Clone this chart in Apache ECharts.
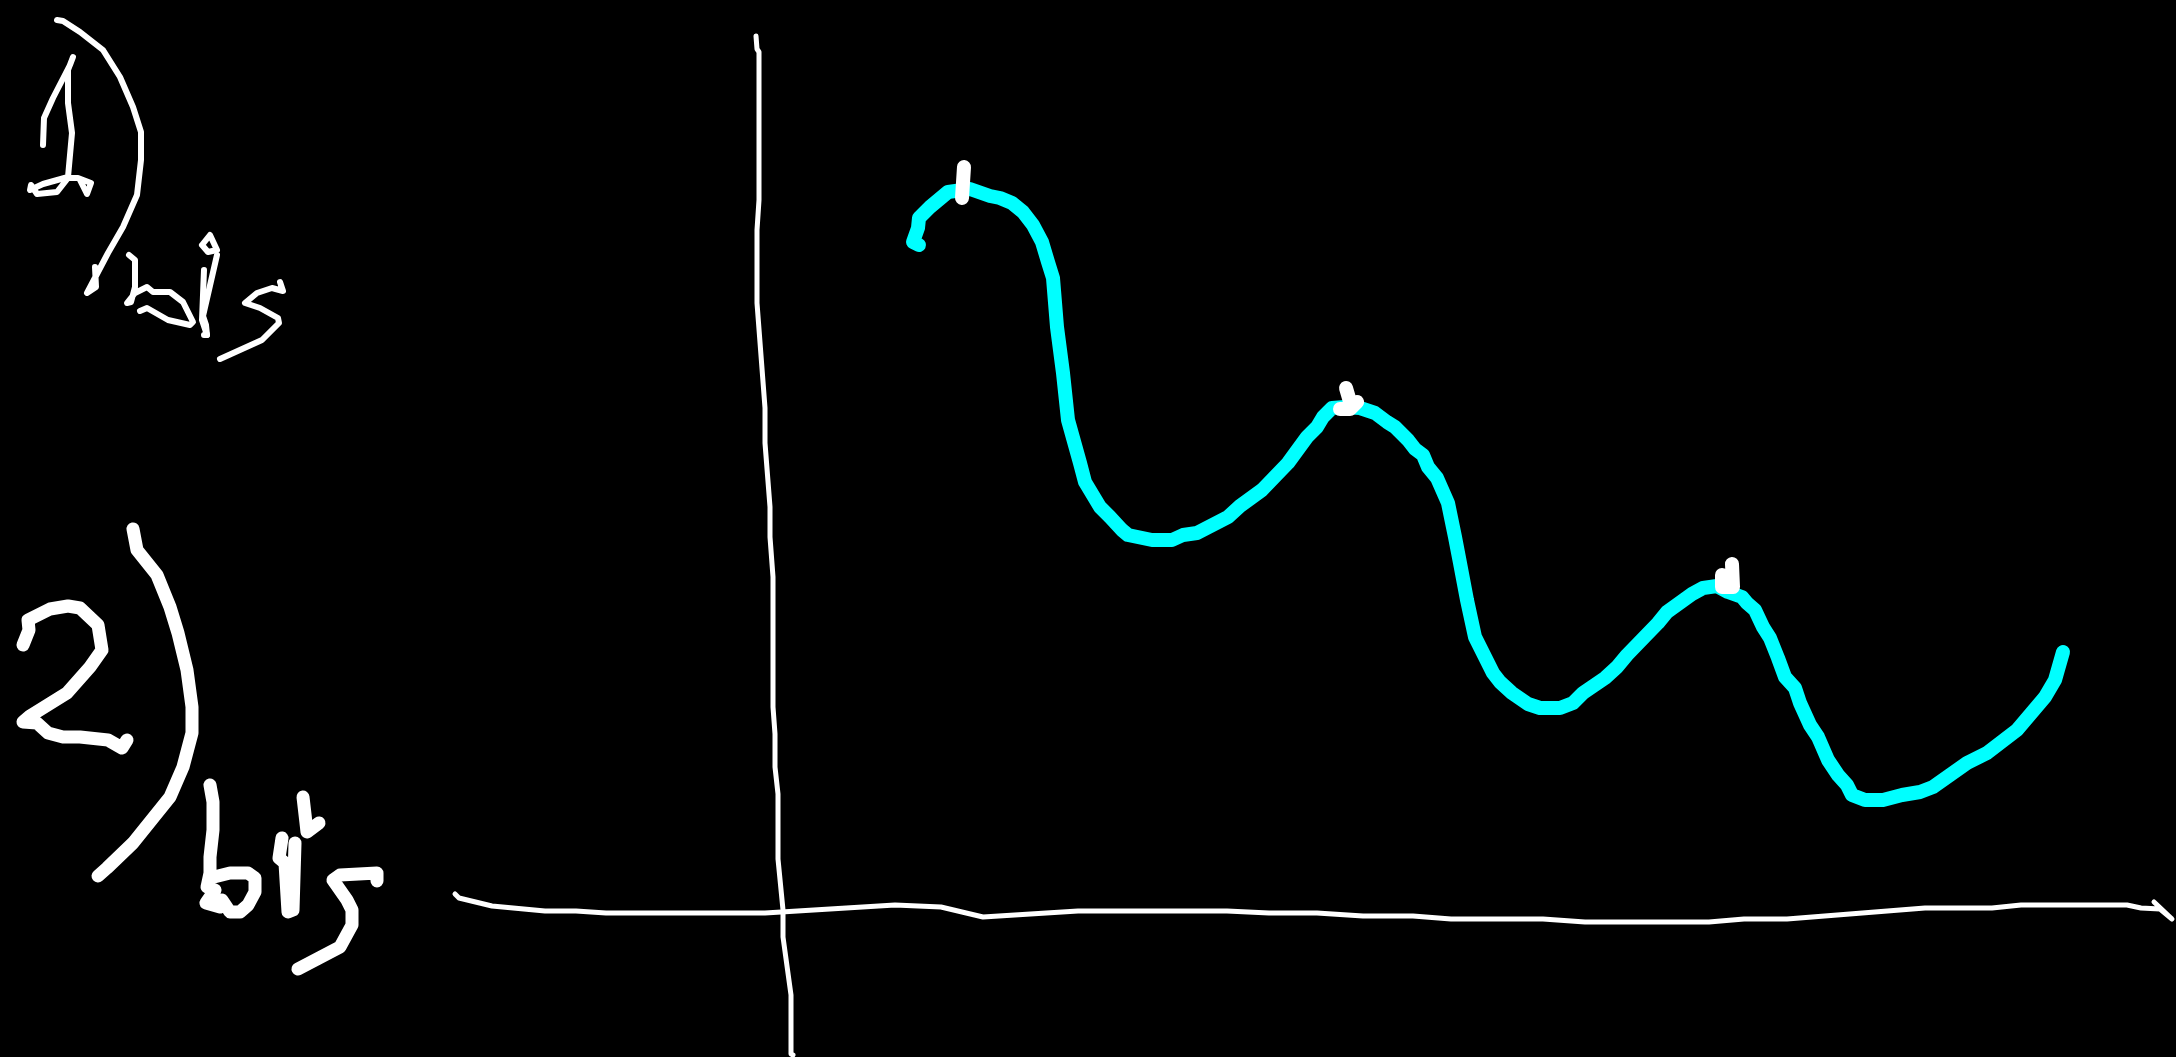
<!DOCTYPE html>
<html>
<head>
<meta charset="utf-8">
<style>
html, body { margin: 0; padding: 0; background: #000; }
#sketchChart { width: 2176px; height: 1057px; }
</style>
<script src="https://cdn.jsdelivr.net/npm/echarts@6/dist/echarts.min.js"></script>
</head>
<body>
<div id="sketchChart"></div>
<script>
// every stroke as [x, y]
var yAxisLine = [[756,36],[757,49],[759,52],[759,200],[757,230],[757,303],[765,408],[765,443],[770,507],[770,537],[773,577],[773,707],[775,734],[775,767],[778,794],[778,859],[783,910],[783,937],[791,995],[791,1054],[793,1055]];
var xAxisLine = [[455,894],[459,898],[492,906],[545,911],[576,911],[606,913],[765,913],[895,905],[941,907],[983,917],[1078,911],[1227,911],[1269,913],[1317,913],[1363,916],[1413,916],[1451,919],[1543,919],[1585,922],[1709,922],[1744,919],[1787,919],[1925,908],[1992,908],[2021,905],[2127,905],[2141,908],[2160,909],[2172,919],[2154,902]];
var curve = [[919,245],[913,242],[918,228],[919,218],[930,207],[948,192],[970,189],[990,196],[1000,198],[1012,203],[1023,212],[1033,225],[1042,242],[1048,262],[1053,278],[1057,327],[1063,373],[1068,420],[1080,463],[1085,482],[1100,507],[1110,517],[1122,530],[1128,535],[1152,540],[1172,540],[1183,535],[1197,533],[1228,517],[1240,506],[1262,490],[1288,463],[1307,437],[1317,427],[1323,417],[1332,408],[1345,407],[1360,408],[1375,413],[1387,422],[1395,427],[1408,440],[1415,449],[1423,455],[1428,467],[1437,478],[1448,503],[1455,537],[1460,563],[1467,600],[1475,637],[1493,673],[1500,682],[1512,693],[1528,704],[1540,708],[1560,708],[1573,703],[1583,693],[1605,678],[1617,667],[1627,655],[1658,623],[1667,612],[1692,594],[1703,588],[1717,586],[1728,592],[1742,597],[1747,603],[1755,610],[1763,627],[1770,638],[1778,658],[1785,677],[1795,688],[1800,703],[1810,725],[1818,737],[1828,760],[1838,775],[1847,785],[1852,795],[1865,800],[1883,800],[1902,795],[1920,792],[1933,787],[1967,763],[1987,753],[2017,730],[2045,697],[2055,680],[2063,652]];

var peakOne = [[964,167],[962,198]];
var peakTwo = [[1346,388],[1351,405],[1357,402],[1350,409],[1340,409]];
var peakThree = [[1732,564],[1733,587],[1722,587],[1722,575]];

var oneDigit = [[43,145],[44,118],[53,98],[70,65],[73,57],[68,70],[68,103],[72,133],[68,177],[43,184],[30,190],[31,185],[37,194],[57,192],[68,178],[78,178],[91,183],[87,194],[80,180]];
var oneParen = [[57,20],[63,21],[80,32],[103,50],[120,77],[133,107],[141,132],[141,160],[137,195],[123,227],[108,253],[87,293],[96,287],[95,267]];
var oneB = [[129,255],[135,260],[135,287],[131,302],[127,303],[135,293],[147,287],[153,292],[170,292],[183,302],[193,322],[190,325],[168,320],[147,308],[140,311]];
var oneStemA = [[204,270],[202,320],[207,335],[204,335]];
var oneStemB = [[217,255],[203,316],[206,325],[207,335]];
var oneDot = [[202,245],[210,235],[217,250],[208,252],[202,245]];
var oneS = [[280,282],[283,291],[272,288],[257,293],[245,303],[260,308],[278,318],[279,323],[262,340],[220,359]];

var twoDigit = [[23,645],[29,630],[28,620],[50,609],[68,606],[80,608],[98,625],[102,650],[90,667],[67,693],[30,716],[23,722],[37,723],[48,733],[63,737],[80,737],[108,740],[122,748],[127,740]];
var twoParen = [[133,529],[137,550],[157,575],[170,607],[178,633],[187,670],[192,707],[192,733],[183,767],[170,797],[133,843],[107,868],[98,876]];
var twoB = [[210,785],[213,802],[213,830],[210,857],[210,873],[207,887],[215,890],[206,903],[220,907],[222,900],[230,912],[240,912],[248,905],[255,892],[255,878],[248,873],[230,873],[210,878]];
var twoStem = [[282,838],[279,858],[285,863],[288,912],[293,910],[295,843]];
var twoDot = [[303,797],[306,823],[307,832],[319,823]];
var twoS = [[377,881],[377,873],[340,875],[333,880],[347,900],[352,910],[352,925],[340,947],[298,969]];

function stroke(points, color, width) {
    return {
        type: 'line',
        data: points,
        showSymbol: false,
        symbol: 'none',
        silent: true,
        clip: false,
        lineStyle: { color: color, width: width, cap: 'round', join: 'round' }
    };
}

var sketchChart = echarts.init(document.getElementById('sketchChart'));
var option = {
    backgroundColor: '#000',
    animation: false,
    grid: { left: 0, right: 0, top: 0, bottom: 0 },
    xAxis: { type: 'value', min: 0, max: 2176, show: false },
    yAxis: { type: 'value', min: 0, max: 1057, inverse: true, show: false },
    series: [
        stroke(yAxisLine, '#fff', 5),
        stroke(xAxisLine, '#fff', 5),
        stroke(curve, '#0ff', 14),
        stroke(peakOne, '#fff', 14),
        stroke(peakTwo, '#fff', 14),
        stroke(peakThree, '#fff', 14),
        stroke(oneDigit, '#fff', 6),
        stroke(oneParen, '#fff', 6),
        stroke(oneB, '#fff', 6),
        stroke(oneStemA, '#fff', 6),
        stroke(oneStemB, '#fff', 6),
        stroke(oneDot, '#fff', 6),
        stroke(oneS, '#fff', 6),
        stroke(twoDigit, '#fff', 13),
        stroke(twoParen, '#fff', 13),
        stroke(twoB, '#fff', 13),
        stroke(twoStem, '#fff', 13),
        stroke(twoDot, '#fff', 13),
        stroke(twoS, '#fff', 13)
    ]
};

sketchChart.setOption(option);
</script>
</body>
</html>
